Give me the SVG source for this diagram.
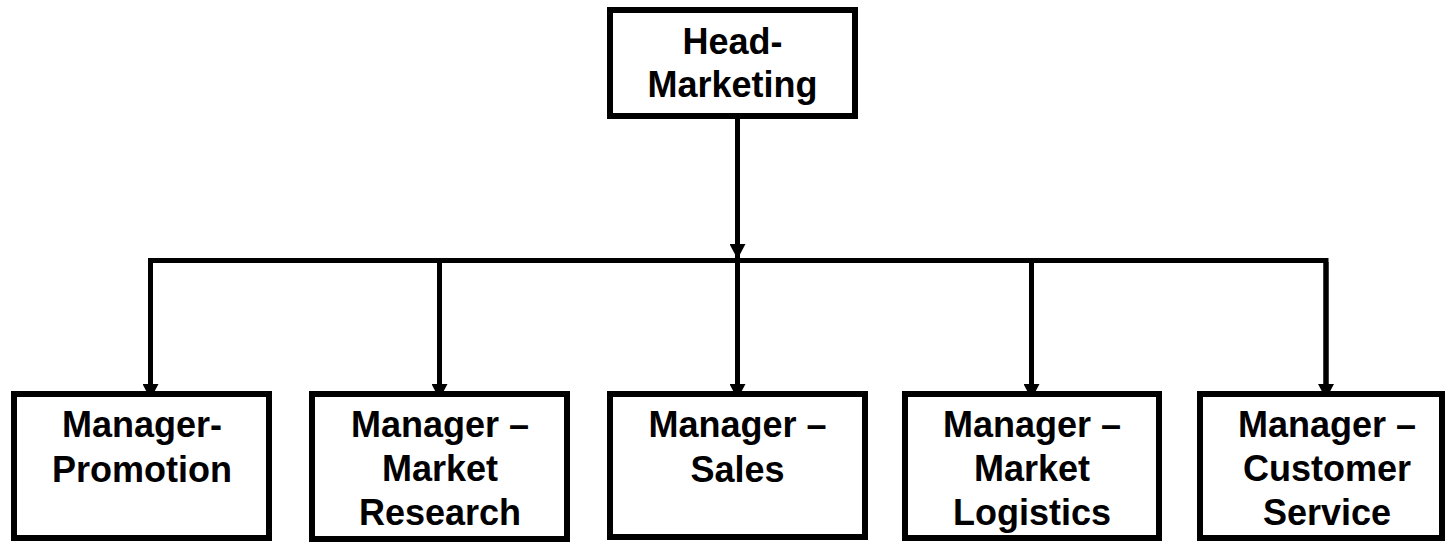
<svg xmlns="http://www.w3.org/2000/svg" width="1445" height="542" viewBox="0 0 1445 542">
<style>
.box{fill:#fff;stroke:#000;stroke-width:6}
.t{font-family:"Liberation Sans",Arial,sans-serif;font-weight:bold;font-size:36px;fill:#000;text-anchor:middle}
.ln{fill:none;stroke:#000;stroke-width:5}
</style>
<defs>
<marker id="ah" markerUnits="userSpaceOnUse" markerWidth="16" markerHeight="16" viewBox="0 0 16 16" refX="8" refY="15" orient="0">
<polygon points="0,0 16,0 8,15" fill="#000"/>
</marker>
</defs>
<rect width="1445" height="542" fill="#fff"/>
<g id="connectors">
<line class="ln" x1="737.5" y1="119" x2="737.5" y2="259" marker-end="url(#ah)"/>
<polyline class="ln" points="150.5,398 150.5,260.5 1326,260.5 1326,398"/>
<line class="ln" x1="150.5" y1="262" x2="150.5" y2="399" marker-end="url(#ah)"/>
<line class="ln" x1="439.5" y1="262" x2="439.5" y2="399" marker-end="url(#ah)"/>
<line class="ln" x1="737.5" y1="262" x2="737.5" y2="399" marker-end="url(#ah)"/>
<line class="ln" x1="1031.5" y1="262" x2="1031.5" y2="399" marker-end="url(#ah)"/>
<line class="ln" x1="1326" y1="262" x2="1326" y2="399" marker-end="url(#ah)"/>
</g>
<g id="head">
<rect class="box" x="610" y="10" width="245" height="106"/>
<text class="t" x="732.5" y="54">Head-</text>
<text class="t" x="732.5" y="97">Marketing</text>
</g>
<g id="promotion">
<rect class="box" x="14" y="394" width="255" height="144"/>
<text class="t" x="142" y="437">Manager-</text>
<text class="t" x="142" y="482">Promotion</text>
</g>
<g id="research">
<rect class="box" x="312" y="394" width="255" height="145"/>
<text class="t" x="440" y="437">Manager –</text>
<text class="t" x="440" y="481">Market</text>
<text class="t" x="440" y="525">Research</text>
</g>
<g id="sales">
<rect class="box" x="610" y="394" width="255" height="143"/>
<text class="t" x="737.5" y="437">Manager –</text>
<text class="t" x="737.5" y="482">Sales</text>
</g>
<g id="logistics">
<rect class="box" x="905" y="394" width="254" height="144"/>
<text class="t" x="1032" y="437">Manager –</text>
<text class="t" x="1032" y="481">Market</text>
<text class="t" x="1032" y="525">Logistics</text>
</g>
<g id="customer">
<rect class="box" x="1200" y="394" width="242" height="144"/>
<text class="t" x="1327" y="437">Manager –</text>
<text class="t" x="1327" y="481">Customer</text>
<text class="t" x="1327" y="525">Service</text>
</g>
</svg>
